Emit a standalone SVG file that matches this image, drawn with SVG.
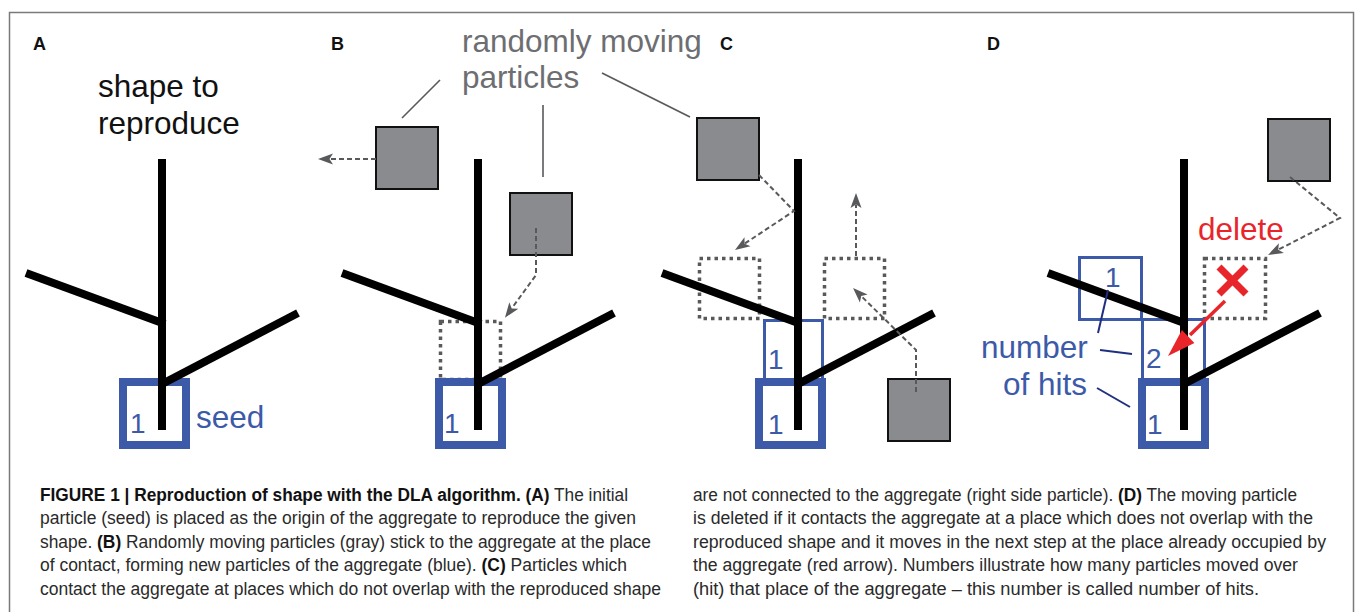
<svg xmlns="http://www.w3.org/2000/svg" width="1355" height="612" viewBox="0 0 1355 612">
<style>
  .frame{fill:none;stroke:#7a7a7a;stroke-width:1.5}
  .lbl{font-family:"Liberation Sans",Arial,sans-serif;font-weight:bold;font-size:18px;fill:#111}
  .big{font-family:"Liberation Sans",Arial,sans-serif;font-size:31.5px}
  .blk{fill:#111}
  .gtx{fill:#6d6e71}
  .btx{fill:#3c5aa8}
  .rtx{fill:#e8252a}
  .num{font-family:"Liberation Sans",Arial,sans-serif;font-size:28px;fill:#3c5aa8}
  .tree{stroke:#000;stroke-width:8;fill:none;stroke-linecap:butt}
  .thick{fill:none;stroke:#3c5aa8;stroke-width:8}
  .thin{fill:none;stroke:#3c5aa8;stroke-width:3}
  .dot{fill:none;stroke:#58595b;stroke-width:3.5;stroke-dasharray:3.5 4}
  .part{fill:#8a8b8e;stroke:#111;stroke-width:2}
  .dash{fill:none;stroke:#58595b;stroke-width:2;stroke-dasharray:5 3;marker-end:url(#ah)}
  .lead{fill:none;stroke:#58595b;stroke-width:1.6}
  .nlead{fill:none;stroke:#1f2f80;stroke-width:2}
  .cap{font-family:"Liberation Sans",Arial,sans-serif;font-size:18.5px;fill:#2a2a2a}
  .b{font-weight:bold;fill:#111}
</style>
<defs>
  <marker id="ah" markerUnits="userSpaceOnUse" markerWidth="16" markerHeight="12" refX="3" refY="5.5" orient="auto" viewBox="0 0 16 11">
    <path d="M0,0 L15,5.5 L0,11 L3.5,5.5 Z" fill="#58595b" stroke="none"/>
  </marker>
</defs>

<path class="frame" d="M9.5,612 V12.5 H1353.5 V612"/>

<!-- Panel A -->
<g id="panelA">
  <text class="lbl" x="33" y="50">A</text>
  <text class="big blk" x="98" y="97">shape to</text>
  <text class="big blk" x="98" y="134">reproduce</text>
  <rect class="thick" x="123" y="382" width="63" height="63"/>
  <line class="tree" x1="162" y1="159" x2="162" y2="430"/>
  <line class="tree" x1="26" y1="273" x2="165" y2="324"/>
  <line class="tree" x1="162" y1="384" x2="298" y2="313"/>
  <text class="num" x="130" y="433">1</text>
  <text class="big btx" x="196" y="428">seed</text>
</g>

<!-- Panel B -->
<g id="panelB">
  <text class="lbl" x="331" y="50">B</text>
  <text class="big gtx" x="462" y="52">randomly moving</text>
  <text class="big gtx" x="462" y="88">particles</text>
  <rect class="dot" x="440.5" y="321.5" width="60" height="58"/>
  <rect class="thick" x="439" y="382" width="63" height="63"/>
  <line class="tree" x1="478" y1="159" x2="478" y2="430"/>
  <line class="tree" x1="342" y1="273" x2="481" y2="324"/>
  <line class="tree" x1="478" y1="384" x2="614" y2="313"/>
  <text class="num" x="444" y="433">1</text>
  <rect id="pB1" class="part" x="376" y="127" width="62" height="62"/>
  <rect id="pB2" class="part" x="510" y="193" width="62" height="62"/>
</g>

<!-- Panel C -->
<g id="panelC">
  <text class="lbl" x="720" y="50">C</text>
  <rect class="dot" x="699.5" y="258.5" width="60" height="60"/>
  <rect class="dot" x="824.5" y="258.5" width="60" height="60"/>
  <rect class="thin" x="764.5" y="320.5" width="58" height="60"/>
  <rect class="thick" x="759" y="382" width="63" height="63"/>
  <line class="tree" x1="798" y1="159" x2="798" y2="430"/>
  <line class="tree" x1="662" y1="273" x2="801" y2="324"/>
  <line class="tree" x1="798" y1="384" x2="934" y2="313"/>
  <text class="num" x="768" y="369">1</text>
  <text class="num" x="768" y="434">1</text>
  <rect id="pC1" class="part" x="697" y="118" width="62" height="62"/>
  <rect id="pC2" class="part" x="888" y="379" width="62" height="62"/>
</g>

<!-- Panel D -->
<g id="panelD">
  <text class="lbl" x="987" y="50">D</text>
  <rect class="dot" x="1204.5" y="258.5" width="61" height="60"/>
  <rect class="thin" x="1079.5" y="257.5" width="62" height="62"/>
  <rect class="thin" x="1142.5" y="319.5" width="62" height="62"/>
  <rect class="thick" x="1142" y="382" width="63" height="63"/>
  <line class="tree" x1="1184" y1="159" x2="1184" y2="430"/>
  <line class="tree" x1="1048" y1="273" x2="1187" y2="324"/>
  <line class="tree" x1="1184" y1="384" x2="1320" y2="313"/>
  <text class="num" x="1105" y="287">1</text>
  <text class="num" x="1146" y="368">2</text>
  <text class="num" x="1147" y="434">1</text>
  <text class="big btx" x="981" y="358">number</text>
  <text class="big btx" x="1003" y="395">of hits</text>
  <text class="big rtx" x="1198" y="240">delete</text>
  <g id="redX" stroke="#e8252a" stroke-width="7">
    <line x1="1219" y1="267" x2="1246" y2="294"/>
    <line x1="1246" y1="267" x2="1219" y2="294"/>
  </g>
  <rect id="pD1" class="part" x="1268" y="119" width="62" height="62"/>
</g>

<!-- Connectors -->
<g id="connectors">
  <line class="lead" x1="402" y1="118" x2="440" y2="80"/>
  <line class="lead" x1="543" y1="105" x2="543" y2="177"/>
  <line class="lead" x1="602" y1="73" x2="690" y2="117"/>
  <path class="dash" d="M376,159 L330,159"/>
  <path class="dash" d="M536,228 L536,275 L512,308"/>
  <path class="dash" d="M759,175 L794,211 L745,243.4"/>
  <path class="dash" d="M856,256 L856,205"/>
  <path class="dash" d="M916,392 L916,350 L861.6,296.4"/>
  <path class="dash" d="M1290,177 L1340,218 L1278.7,249.5"/>
  <line class="nlead" x1="1108" y1="290" x2="1098" y2="333"/>
  <line class="nlead" x1="1100" y1="350" x2="1132" y2="354"/>
  <line class="nlead" x1="1097" y1="388" x2="1130" y2="407"/>
  <line x1="1225" y1="301" x2="1190" y2="335" stroke="#e8252a" stroke-width="3.5"/>
  <polygon points="1168,356 1194.4,343.1 1188.2,336.6 1181.9,330.1" fill="#e8252a"/>
</g>

<!-- Caption (horizontally condensed) -->
<g id="caption" transform="scale(0.87,1)">
  <text class="cap" x="45.98" y="501" textLength="675.9" lengthAdjust="spacingAndGlyphs"><tspan class="b">FIGURE 1 | Reproduction of shape with the DLA algorithm. (A)</tspan> The initial</text>
  <text class="cap" x="45.98" y="524.5" textLength="685.1" lengthAdjust="spacingAndGlyphs">particle (seed) is placed as the origin of the aggregate to reproduce the given</text>
  <text class="cap" x="45.98" y="548" textLength="702.3" lengthAdjust="spacingAndGlyphs">shape. <tspan class="b">(B)</tspan> Randomly moving particles (gray) stick to the aggregate at the place</text>
  <text class="cap" x="45.98" y="571.5" textLength="674.7" lengthAdjust="spacingAndGlyphs">of contact, forming new particles of the aggregate (blue). <tspan class="b">(C)</tspan> Particles which</text>
  <text class="cap" x="45.98" y="595" textLength="713.8" lengthAdjust="spacingAndGlyphs">contact the aggregate at places which do not overlap with the reproduced shape</text>
  <text class="cap" x="796.55" y="501" textLength="694.3" lengthAdjust="spacingAndGlyphs">are not connected to the aggregate (right side particle). <tspan class="b">(D)</tspan> The moving particle</text>
  <text class="cap" x="796.55" y="524.5" textLength="712.6" lengthAdjust="spacingAndGlyphs">is deleted if it contacts the aggregate at a place which does not overlap with the</text>
  <text class="cap" x="796.55" y="548" textLength="727.6" lengthAdjust="spacingAndGlyphs">reproduced shape and it moves in the next step at the place already occupied by</text>
  <text class="cap" x="796.55" y="571.5" textLength="695.4" lengthAdjust="spacingAndGlyphs">the aggregate (red arrow). Numbers illustrate how many particles moved over</text>
  <text class="cap" x="796.55" y="595" textLength="650.6" lengthAdjust="spacingAndGlyphs">(hit) that place of the aggregate – this number is called number of hits.</text>
</g>
</svg>
